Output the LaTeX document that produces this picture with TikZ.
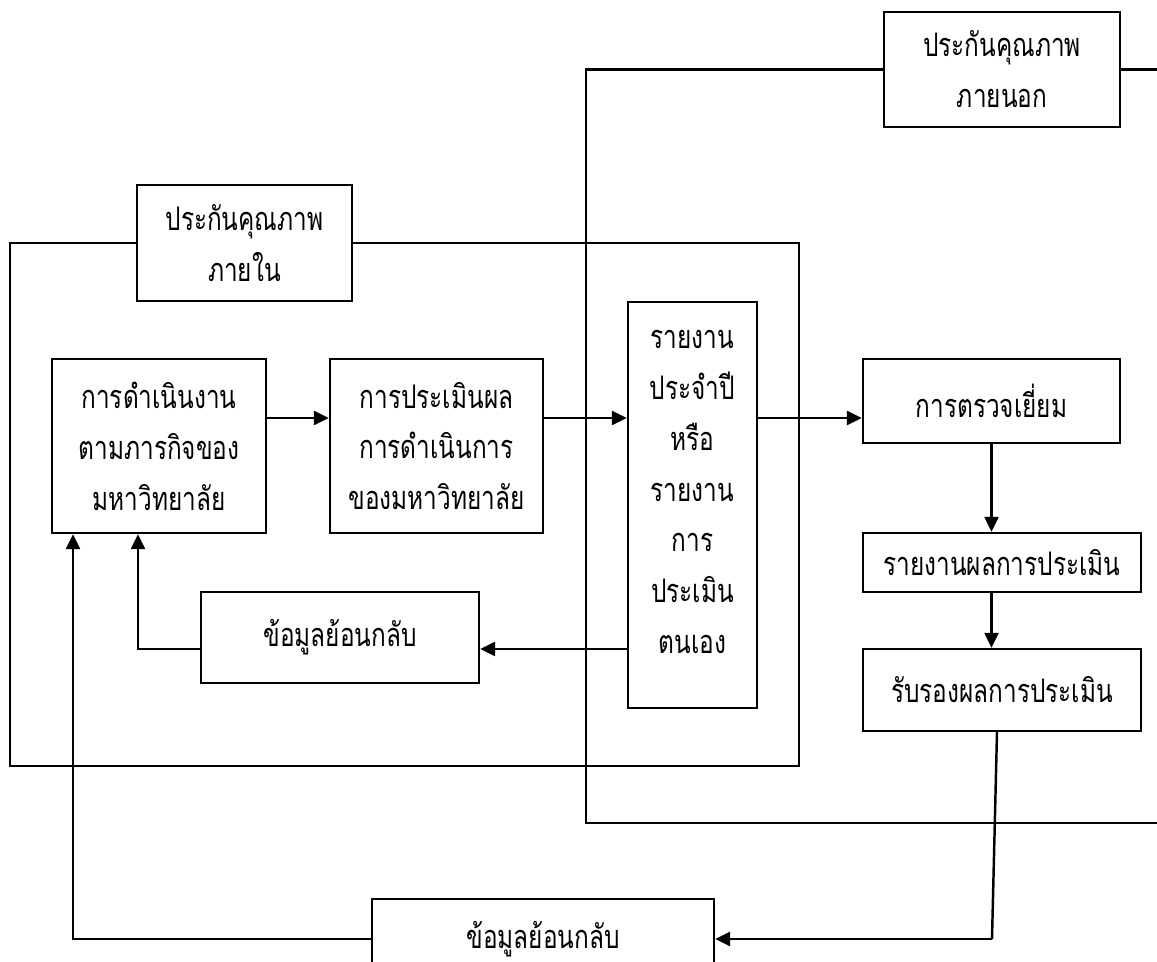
\documentclass[tikz,border=0pt]{standalone}
\usepackage{fontspec}
\newfontfamily\thai[Script=Thai,FakeStretch=0.75]{Loma}
\usetikzlibrary{arrows.meta,backgrounds,calc}
\begin{document}
\begin{tikzpicture}[x=0.02cm,y=-0.02cm,
  box/.style={draw,line width=1.4pt,fill=white,align=center,inner sep=0pt,
    font=\thai\fontsize{18.5}{29}\selectfont},
  txt/.style={align=center,inner sep=0pt,font=\thai\fontsize{18.5}{29}\selectfont},
  conn/.style={line width=1.4pt},
  arr/.style={conn,-{Triangle[length=0.3cm,width=0.28cm]}}]
\useasboundingbox (0,0) rectangle (1157,962);
\clip (0,0) rectangle (1157,962);
% boxes
\node[box,minimum width=4.3cm,minimum height=2.32cm] (qain) at (244.5,243) {ประกันคุณภาพ\\ภายใน};
\node[box,minimum width=4.72cm,minimum height=2.3cm] (qaext) at (1002,69.5) {ประกันคุณภาพ\\ภายนอก};
\node[box,minimum width=4.28cm,minimum height=3.48cm] (b1) at (159,446) {การดำเนินงาน\\ตามภารกิจของ\\มหาวิทยาลัย};
\node[box,minimum width=4.26cm,minimum height=3.48cm] (b2) at (436.5,446) {การประเมินผล\\การดำเนินการ\\ของมหาวิทยาลัย};
\node[box,minimum width=2.58cm,minimum height=8.12cm] (rep) at (692.5,505) {};
\node[txt] (rept) at (692.5,492) {รายงาน\\ประจำปี\\หรือ\\รายงาน\\การ\\ประเมิน\\ตนเอง};
\node[box,minimum width=5.14cm,minimum height=1.68cm] (visit) at (991.5,401) {การตรวจเยี่ยม};
\node[box,minimum width=5.56cm,minimum height=1.18cm] (res) at (1002,562.5) {\raisebox{-4pt}{รายงานผลการประเมิน}};
\node[box,minimum width=5.56cm,minimum height=1.64cm] (cert) at (1002,690) {รับรองผลการประเมิน};
\node[box,minimum width=5.56cm,minimum height=1.82cm] (fb1) at (340,637.5) {ข้อมูลย้อนกลับ};
\node[box,minimum width=6.84cm,minimum height=1.6cm] (fb2) at (543,939) {ข้อมูลย้อนกลับ};
% helper coordinates
\coordinate (ay) at (0,418);
\coordinate (fy) at (0,649);
\coordinate (c1) at (992,939);
\coordinate (ux1) at (73,0);
\coordinate (ux2) at (138,0);
% frames behind
\begin{scope}[on background layer]
\draw[conn] (qain.west) -- (10,243) -- (10,766) -- (799,766) -- (799,243) -- (qain.east);
\draw[conn] (qaext.west) -- (586,69.5) -- (586,823) -- (1170,823);
\draw[conn] (qaext.east) -- (1170,69.5);
\end{scope}
% connectors
\draw[arr] (b1.east |- ay) -- (b2.west |- ay);
\draw[arr] (b2.east |- ay) -- (rep.west |- ay);
\draw[arr] (rep.east |- ay) -- (visit.west |- ay);
\draw[arr] (visit.south) -- (visit.south |- res.north);
\draw[arr] (visit.south |- res.south) -- (visit.south |- cert.north);
\draw[arr] (rep.west |- fy) -- (fb1.east |- fy);
\draw[arr] (fb1.west |- fy) -- (ux2 |- fy) -- (ux2 |- b1.south);
\draw[conn] ($(cert.south)+(-5,0)$) -- (c1);
\draw[arr] (c1) -- (fb2.east);
\draw[arr] (fb2.west) -- (ux1 |- fb2.west) -- (ux1 |- b1.south);
\end{tikzpicture}
\end{document}
